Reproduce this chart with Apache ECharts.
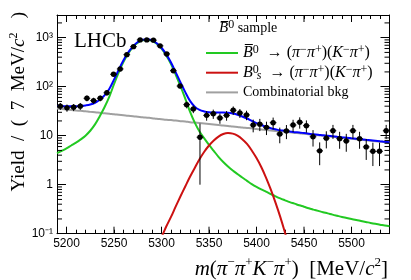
<!DOCTYPE html>
<html><head><meta charset="utf-8">
<script src="https://cdn.jsdelivr.net/npm/echarts@6/dist/echarts.min.js"></script>
<style>html,body{margin:0;padding:0;background:#fff}#c{width:411px;height:280px}</style>
</head><body><div id="c"></div>
<script>
// ---- data ----
const binCenters = [5193.5,5200.5,5207.5,5214.5,5221.5,5228.5,5235.5,5242.5,5249.5,5256.5,
  5263.5,5270.5,5277.5,5284.5,5291.5,5298.5,5305.5,5312.5,5319.5,5326.5,
  5333.5,5340.5,5347.5,5354.5,5361.5,5368.5,5375.5,5382.5,5389.5,5396.5,
  5403.5,5410.5,5417.5,5424.5,5431.5,5438.5,5445.5,5452.5,5459.5,5466.5,
  5473.5,5480.5,5487.5,5494.5,5501.5,5508.5,5515.5,5522.5,5529.5,5536.5];
const yields = [40,37,38,40,58,52,58,75,179,230,
  450,655,900,900,890,680,465,212,103,43,
  35,9.3,26,28,23,26,33,29,26.5,16.5,
  17.2,14.8,18.4,10.8,12.5,16.5,18.8,16,9.5,4.9,
  8.9,12.6,8.7,7.8,12.6,8.7,5.9,4.8,4.8,12.6];
const yieldErrors = [6.5,6.2,6.3,6.5,7.8,7.4,7.8,8.9,13.6,15.3,
  21.4,25.8,30.2,30.2,30,26.3,21.8,14.8,10.4,6.8,
  6.2,8.3,5.8,6,5.5,5.8,6.5,6,5.8,4.8,
  4.8,4.5,5,3.8,4,4.6,4.9,4.5,3.5,2.4,
  3.4,4,3.3,3.1,4,3.3,2.7,2.4,2.4,4];
const curveMass = [5190,5195,5200,5205,5210,5215,5220,5225,5230,5235,5240,5245,5250,5255,5260,5265,5270,5275,
  5280,5285,5290,5295,5300,5305,5310,5315,5320,5325,5330,5335,5340,5345,5350,5355,5360,5365,5370,5375,
  5380,5385,5390,5395,5400,5405,5410,5415,5420,5425,5430,5435,5440,5445,5450,5455,5460,5465,5470,5475,
  5480,5485,5490,5495,5500,5505,5510,5515,5520,5525,5530,5535,5540];
const totalFit = [40.4,40.1,39.9,39.9,40.0,40.5,41.4,43.2,47,54.3,66.6,90,139,222,346,500,665,814,
  909,923,883,772,622,456,311,196,122,77.3,51.4,39.2,33.6,31.2,30.1,29.8,29.8,29.8,29.5,28.4,
  26.8,24.6,22.4,20.1,18.1,16.5,15.2,14.2,13.5,12.9,12.6,12.2,11.8,11.6,11.3,11.0,10.7,10.5,10.2,10.0,
  9.77,9.53,9.31,9.10,8.88,8.68,8.47,8.27,8.09,7.90,7.71,7.54,7.34];
const signalB0 = [4.4,4.9,5.5,6.3,7.2,8.4,10.0,12.6,17,25,38,62,112,195,320,475,640,790,
  885,900,860,750,600,435,290,175,102,57,31,18.5,12.2,8.8,6.5,4.9,3.7,2.9,2.35,1.95,
  1.65,1.4,1.2,1.03,0.9,0.8,0.72,0.645,0.58,0.525,0.48,0.44,0.41,0.38,0.355,0.33,0.31,0.292,0.275,0.26,
  0.245,0.232,0.22,0.21,0.2,0.19,0.182,0.174,0.166,0.159,0.153,0.147,0.142];
const signalBs = [null,null,null,null,null,null,null,null,null,null,null,null,null,null,null,null,null,null,
  null,null,0.035,0.055,0.085,0.14,0.22,0.36,0.58,0.92,1.45,2.2,3.3,4.7,6.3,8.0,9.6,10.8,11.3,11.0,
  10.0,8.5,6.8,5.0,3.5,2.3,1.4,0.8,0.43,0.22,0.105,0.048,0.022,null,null,null,null,null,null,null,
  null,null,null,null,null,null,null,null,null,null,null,null,null];
const combBkg = [36.0,35.2,34.4,33.6,32.8,32.1,31.4,30.6,30.0,29.3,28.6,28.0,27.3,26.7,26.1,25.5,25.0,24.4,
  23.8,23.3,22.8,22.2,21.7,21.2,20.8,20.3,19.8,19.4,18.9,18.5,18.1,17.7,17.3,16.9,16.5,16.1,15.8,15.4,
  15.1,14.7,14.4,14.1,13.7,13.4,13.1,12.8,12.5,12.2,12.0,11.7,11.4,11.2,10.9,10.7,10.4,10.2,9.97,9.74,
  9.52,9.30,9.09,8.89,8.68,8.49,8.29,8.10,7.92,7.74,7.56,7.39,7.2];
const xTickLabels = [5200,5250,5300,5350,5400,5450,5500];
const yTickLabels = {'-1':'10⁻¹','0':'1','1':'10','2':'10²','3':'10³'};

const X_MIN = 5190, X_MAX = 5540, Y_MIN = 0.1, Y_MAX = 2900, BIN_HALF = 3.5;
const SERIF = "'Liberation Serif','Times New Roman',serif";
const SANS = "'Liberation Sans',Arial,sans-serif";

const pairs = arr => curveMass.map((m, i) => [m, arr[i]]);

const rich = {
  r: {fontFamily: SERIF, fontSize: 14, lineHeight: 18, color: '#000'},
  m: {fontFamily: SERIF, fontSize: 16, lineHeight: 18, color: '#000'},
  i: {fontFamily: SERIF, fontStyle: 'italic', fontSize: 16, lineHeight: 18, color: '#000'},
  h: {fontFamily: SERIF, fontStyle: 'italic', fontSize: 15, lineHeight: 18, color: '#000'},
  sup: {fontFamily: SERIF, fontSize: 12, lineHeight: 10, verticalAlign: 'top', color: '#000'},
  supw: {fontFamily: SERIF, fontSize: 12, lineHeight: 10, verticalAlign: 'top', width: 1, color: '#000'},
  sub: {fontFamily: SERIF, fontStyle: 'italic', fontSize: 12, lineHeight: 10, verticalAlign: 'bottom', color: '#000'}
};
const decay = '{m|  → (}{i|π}{sup|−}{i|π}{sup|+}{m|)(}{i|K}{sup|−}{i|π}{sup|+}{m|)}';
const legendText = {
  'B0': '{i|B\u0305}{sup|0}' + decay,
  'Bs': '{i|B}{supw|0}{sub| s}' + decay,
  'Comb': '{r|Combinatorial bkg}'
};
const titleRich = (fs, sfs) => ({
  r: {fontFamily: SERIF, fontSize: fs, lineHeight: fs + 4, fill: '#000'},
  i: {fontFamily: SERIF, fontStyle: 'italic', fontSize: fs, lineHeight: fs + 4, fill: '#000'},
  sup: {fontFamily: SERIF, fontSize: sfs, lineHeight: sfs, verticalAlign: 'top', fill: '#000'}
});

const chart = echarts.init(document.getElementById('c'), null, {renderer: 'canvas'});
const axisCommon = {
  axisLine: {show: true, onZero: false, lineStyle: {color: '#000', width: 1}},
  splitLine: {show: false}
};
chart.setOption({
  animation: false,
  grid: {left: 57, right: 21.5, top: 15, bottom: 46.3},
  xAxis: [
    Object.assign({type: 'value', min: X_MIN, max: X_MAX, interval: 10, position: 'bottom',
      axisTick: {inside: true, length: 4, lineStyle: {color: '#000'}},
      axisLabel: {margin: 4, color: '#000', fontFamily: SANS, fontSize: 12,
        formatter: v => xTickLabels.indexOf(v) >= 0 ? String(v) : ''}}, axisCommon),
    Object.assign({type: 'value', min: X_MIN, max: X_MAX, interval: 10, position: 'top',
      axisTick: {inside: true, length: 4, lineStyle: {color: '#000'}},
      axisLabel: {show: false}}, axisCommon)
  ],
  yAxis: [
    Object.assign({type: 'log', logBase: 10, min: Y_MIN, max: Y_MAX, position: 'left',
      axisTick: {inside: true, length: 9, lineStyle: {color: '#000'}},
      axisLabel: {margin: 4, color: '#000', fontFamily: SANS, fontSize: 12,
        formatter: v => { const l = Math.log10(v), k = Math.round(l);
          return (Math.abs(l - k) < 1e-6 && yTickLabels[k] != null) ? yTickLabels[k] : ''; }}}, axisCommon),
    Object.assign({type: 'log', logBase: 10, min: Y_MIN, max: Y_MAX, position: 'right',
      axisTick: {inside: true, length: 9, lineStyle: {color: '#000'}},
      axisLabel: {show: false}}, axisCommon)
  ],
  legend: {
    orient: 'vertical', left: 206, top: 44, padding: 0, itemGap: 1.7,
    itemWidth: 32, itemHeight: 2, icon: 'rect', selectedMode: false,
    data: ['B0', 'Bs', 'Comb'],
    formatter: n => legendText[n],
    textStyle: {fontFamily: SERIF, fontSize: 14, lineHeight: 18, color: '#000', rich: rich}
  },
  graphic: [
    {type: 'text', x: 74, y: 41.5, style: {text: 'LHCb', fontFamily: SERIF, fontSize: 21, fill: '#000',
      align: 'left', verticalAlign: 'middle'}},
    {type: 'text', x: 219, y: 28, style: {text: '{h|B\u0305}{sup|0}{r| sample}', rich: rich,
      align: 'left', verticalAlign: 'middle'}},
    {type: 'text', x: 19, y: 12, rotation: Math.PI / 2, style: {
      text: '{r|Yield  /  (  7  MeV/}{i|c}{sup|2}{r|   )}', align: 'right', verticalAlign: 'middle',
      rich: titleRich(19, 12)}},
    {type: 'text', x: 388, y: 269, style: {
      text: '{i|m}{r|(}{i|π}{sup|−}{i|π}{sup|+}{i|K}{sup|−}{i|π}{sup|+}{r|)  [MeV/}{i|c}{sup|2}{r|]}',
      align: 'right', verticalAlign: 'middle', rich: titleRich(21, 13)}}
  ],
  series: [
    {name: 'Comb', type: 'line', data: pairs(combBkg), symbol: 'none', smooth: true,
      lineStyle: {color: '#a0a0a0', width: 2}, itemStyle: {color: '#a0a0a0'}, z: 2},
    {name: 'B0', type: 'line', data: pairs(signalB0), symbol: 'none', smooth: 0.4,
      lineStyle: {color: '#22c922', width: 2}, itemStyle: {color: '#22c922'}, z: 3},
    {name: 'Bs', type: 'line', data: pairs(signalBs), symbol: 'none', smooth: 0.4,
      lineStyle: {color: '#cc1111', width: 2}, itemStyle: {color: '#cc1111'}, z: 3},
    {name: 'Total', type: 'line', data: pairs(totalFit), symbol: 'none', smooth: 0.4,
      lineStyle: {color: '#0000ff', width: 2}, itemStyle: {color: '#0000ff'}, z: 4},
    {name: 'Data', type: 'custom', clip: true, z: 10,
      data: binCenters.map((m, i) => [m, yields[i], yieldErrors[i]]),
      encode: {x: 0, y: 1},
      renderItem: function (params, api) {
        const m = api.value(0), v = api.value(1), e = api.value(2);
        const c = api.coord([m, v]);
        const l = api.coord([m - BIN_HALF, v]);
        const r = api.coord([m + BIN_HALF, v]);
        const t = api.coord([m, v + e]);
        const b = api.coord([m, v - e > 0 ? v - e : Y_MIN * 0.5]);
        const st = {stroke: '#000', lineWidth: 1};
        return {type: 'group', children: [
          {type: 'line', shape: {x1: l[0], y1: c[1], x2: r[0], y2: c[1]}, style: st},
          {type: 'line', shape: {x1: c[0], y1: t[1], x2: c[0], y2: b[1]}, style: st},
          {type: 'circle', shape: {cx: c[0], cy: c[1], r: 2.7}, style: {fill: '#000'}}
        ]};
      }},
    {name: 'Ticks', type: 'custom', clip: false, silent: true, z: 11,
      data: [[X_MIN, Y_MIN]], encode: {x: 0, y: 1},
      renderItem: function (params, api) {
        const kids = [];
        const st = {stroke: '#000', lineWidth: 1};
        for (let d = -1; d <= 3; d++) {
          for (let k = 2; k <= 9; k++) {
            const v = k * Math.pow(10, d);
            if (v >= Y_MAX) continue;
            const pl = api.coord([X_MIN, v]), pr = api.coord([X_MAX, v]);
            kids.push({type: 'line', shape: {x1: pl[0], y1: pl[1], x2: pl[0] + 5, y2: pl[1]}, style: st});
            kids.push({type: 'line', shape: {x1: pr[0] - 5, y1: pr[1], x2: pr[0], y2: pr[1]}, style: st});
          }
        }
        xTickLabels.forEach(m => {
          const pb = api.coord([m, Y_MIN]), pt = api.coord([m, Y_MAX]);
          kids.push({type: 'line', shape: {x1: pb[0], y1: pb[1], x2: pb[0], y2: pb[1] - 7}, style: st});
          kids.push({type: 'line', shape: {x1: pt[0], y1: pt[1], x2: pt[0], y2: pt[1] + 7}, style: st});
        });
        return {type: 'group', children: kids};
      }}
  ]
});
</script></body></html>
